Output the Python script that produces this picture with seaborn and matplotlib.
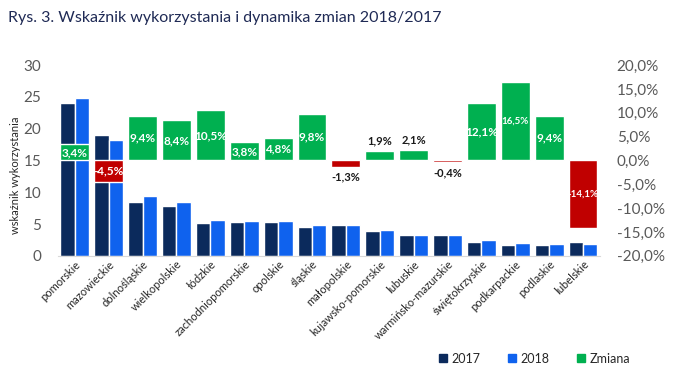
import numpy as np
import pandas as pd
import seaborn as sns
import matplotlib.pyplot as plt
from matplotlib.lines import Line2D

regions = ["pomorskie", "mazowieckie", "dolnośląskie", "wielkopolskie", "łódzkie",
           "zachodniopomorskie", "opolskie", "śląskie", "małopolskie",
           "kujawsko-pomorskie", "lubuskie", "warmińsko-mazurskie",
           "świętokrzyskie", "podkarpackie", "podlaskie", "lubelskie"]
v2017 = [24.0, 19.0, 8.5, 7.8, 5.2, 5.4, 5.3, 4.5, 4.9, 3.9, 3.3, 3.3, 2.2, 1.7, 1.7, 2.2]
v2018 = [24.8, 18.2, 9.4, 8.4, 5.7, 5.5, 5.5, 4.9, 4.8, 4.0, 3.35, 3.3, 2.5, 2.0, 1.9, 1.9]
zmiana = [3.4, -4.5, 9.4, 8.4, 10.5, 3.8, 4.8, 9.8, -1.3, 1.9, 2.1, -0.4, 12.1, 16.5, 9.4, -14.1]

c17 = "#0B2A5C"
c18 = "#0F62EE"
green = "#00B050"
red = "#C00000"
grey = "#595959"

sns.set_style("white")
plt.rcParams['font.family'] = ['Lato', 'DejaVu Sans']

long = pd.DataFrame({
    "region": regions * 2,
    "rok": ["2017"] * len(regions) + ["2018"] * len(regions),
    "val": v2017 + v2018,
})
chg = pd.DataFrame({"region": regions, "zmiana": zmiana})
chg["znak"] = np.where(chg["zmiana"] >= 0, "plus", "minus")

fig = plt.figure(figsize=(6.81, 3.83), dpi=100)
ax = fig.add_axes([0.085, 0.332, 0.796, 0.498])
sns.barplot(data=long, x="region", y="val", hue="rok", palette=[c17, c18],
            width=0.85, ax=ax, legend=False, saturation=1)
ax.set_ylim(0, 30)
ax.set_yticks(range(0, 31, 5))
ax.set_xlim(-0.5, len(regions) - 0.5)
ax.set_xlabel("")
ax.set_ylabel("wskaźnik wykorzystania", fontsize=8, color="#262626")
ax.yaxis.set_label_coords(-0.068, 0.42)
ax.tick_params(axis="y", labelsize=11, colors=grey, length=0, pad=12)
ax.tick_params(axis="x", length=0, pad=2)
ax.set_xticks(range(len(regions)))
ax.set_xticklabels(regions, rotation=45, ha="right", rotation_mode="anchor",
                   fontsize=8, color="#262626")
for s in ["top", "right", "left"]:
    ax.spines[s].set_visible(False)
ax.spines["bottom"].set_color("#D9D9D9")

ax2 = ax.twinx()
sns.barplot(data=chg, x="region", y="zmiana", hue="znak",
            palette={"plus": green, "minus": red}, width=0.85, dodge=False,
            ax=ax2, legend=False, saturation=1)
ax2.set_ylim(-20, 20)
ax2.set_yticks(range(-20, 21, 5))
ax2.set_yticklabels([f"{t:.1f}%".replace(".", ",") for t in range(-20, 21, 5)])
ax2.tick_params(axis="y", labelsize=11, colors=grey, length=0, pad=12)
ax2.set_ylabel("")
for s in ax2.spines.values():
    s.set_visible(False)

for i, z in enumerate(zmiana):
    txt = f"{z:.1f}%".replace(".", ",")
    if abs(z) < 3:
        off = 2.3 if z > 0 else -2.2
        ax2.text(i, z + off, txt, ha="center", va="center", fontsize=8,
                 color="#1a1a1a", fontweight="bold")
    else:
        fs = 7 if abs(z) >= 14 else 8.5
        ax2.text(i, z / 2, txt, ha="center", va="center", fontsize=fs,
                 color="white", fontweight="bold")

fig.text(0.012, 0.953, "Rys. 3. Wskaźnik wykorzystania i dynamika zmian 2018/2017",
         fontsize=11.5, color="#1F2A55", va="center")

handles = [Line2D([], [], marker="s", ls="", color=c, markersize=6) for c in [c17, c18, green]]
fig.legend(handles, ["2017", "2018", "Zmiana"], loc="center", bbox_to_anchor=(0.785, 0.063),
           ncol=3, frameon=False, fontsize=9, handlelength=0.7, handletextpad=0.3,
           columnspacing=2.2)

fig.savefig("out.png", dpi=100)
